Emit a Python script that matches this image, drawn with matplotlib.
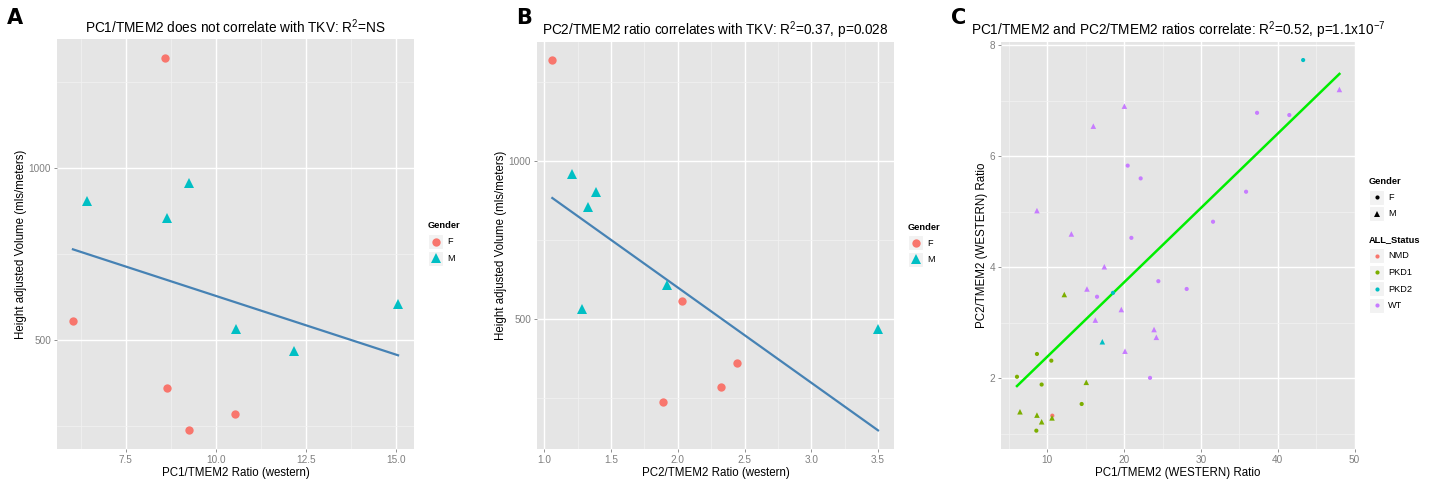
import numpy as np
import matplotlib.pyplot as plt
from matplotlib.lines import Line2D
from matplotlib.patches import Rectangle

plt.rcParams['font.family'] = ['Liberation Sans', 'DejaVu Sans']
plt.rcParams['mathtext.fontset'] = 'custom'
plt.rcParams['mathtext.rm'] = 'Liberation Sans'
plt.rcParams['mathtext.it'] = 'Liberation Sans:italic'

# --- panels A and B: same patients, TKV vs western ratios ---
vol_f = [1321, 557, 360, 285, 238]
pc1_f = [8.58, 6.04, 8.64, 10.52, 9.25]
pc2_f = [1.06, 2.03, 2.44, 2.32, 1.89]

vol_m = [958, 904, 855, 607, 533, 469]
pc1_m = [9.27, 6.42, 8.64, 15.05, 10.55, 12.16]
pc2_m = [1.21, 1.39, 1.33, 1.92, 1.28, 3.50]

# --- panel C: PC1/TMEM2 vs PC2/TMEM2 ---
c_f_x = [43.3, 37.3, 41.5, 20.46, 22.15, 35.87, 31.57, 20.94, 24.45, 28.14,
         16.47, 18.55, 23.37, 8.65, 10.52, 6.05, 9.26, 14.47, 8.57, 10.65]
c_f_y = [7.73, 6.78, 6.74, 5.83, 5.60, 5.36, 4.82, 4.53, 3.75, 3.61,
         3.47, 3.54, 2.01, 2.44, 2.32, 2.03, 1.89, 1.54, 1.06, 1.33]
c_f_status = ['PKD2', 'WT', 'WT', 'WT', 'WT', 'WT', 'WT', 'WT', 'WT', 'WT',
              'WT', 'PKD2', 'WT', 'PKD1', 'PKD1', 'PKD1', 'PKD1', 'PKD1', 'PKD1', 'NMD']

c_m_x = [48.02, 20.03, 15.99, 8.65, 13.13, 17.42, 15.16, 19.63, 16.25, 23.89,
         24.19, 20.11, 17.16, 12.21, 15.07, 6.44, 8.65, 9.26, 10.61]
c_m_y = [7.20, 6.90, 6.54, 5.02, 4.60, 4.01, 3.61, 3.24, 3.05, 2.88,
         2.74, 2.49, 2.66, 3.51, 1.93, 1.40, 1.34, 1.22, 1.29]
c_m_status = ['WT', 'WT', 'WT', 'WT', 'WT', 'WT', 'WT', 'WT', 'WT', 'WT',
              'WT', 'WT', 'PKD2', 'PKD1', 'PKD1', 'PKD1', 'PKD1', 'PKD1', 'PKD1']

statuses = ['NMD', 'PKD1', 'PKD2', 'WT']
status_col = {'NMD': '#F8766D', 'PKD1': '#7CAE00', 'PKD2': '#00BFC4', 'WT': '#C77CFF'}
col_f = '#F8766D'
col_m = '#00BFC4'

TITLE_FS = 9.8
LABEL_FS = 8.3

W, H = 1434, 482
fig = plt.figure(figsize=(W / 100, H / 100), dpi=100)


def px_axes(l, t, r, b):
    return fig.add_axes([l / W, 1 - b / H, (r - l) / W, (b - t) / H])


def gg_style(ax, xmaj, xmin, ymaj, ymin):
    ax.set_facecolor('#E5E5E5')
    for s in ax.spines.values():
        s.set_visible(False)
    ax.set_xticks(xmaj)
    ax.set_xticks(xmin, minor=True)
    ax.set_yticks(ymaj)
    ax.set_yticks(ymin, minor=True)
    ax.grid(which='major', color='white', lw=1.0)
    ax.grid(which='minor', color='#F2F2F2', lw=0.5)
    ax.set_axisbelow(True)
    ax.tick_params(which='major', length=2.5, width=0.6, color='#7F7F7F',
                   labelcolor='#7F7F7F', labelsize=7.2, pad=1.5)
    ax.tick_params(which='minor', length=0)


def fit_line(ax, xs, ys, color, lw):
    xs = np.asarray(xs, float)
    ys = np.asarray(ys, float)
    k, b = np.polyfit(xs, ys, 1)
    xx = np.array([xs.min(), xs.max()])
    ax.plot(xx, k * xx + b, color=color, lw=lw, zorder=2)


# Panel A
axA = px_axes(56.7, 39, 414.3, 449)
gg_style(axA, [7.5, 10, 12.5, 15], [6.25, 8.75, 11.25, 13.75],
         [500, 1000], [250, 750, 1250])
axA.set_xlim(5.59, 15.5)
axA.set_ylim(184, 1376)
fit_line(axA, pc1_f + pc1_m, vol_f + vol_m, '#4682B4', 1.6)
axA.plot(pc1_f, vol_f, 'o', color=col_f, ms=6, mew=0, zorder=3)
axA.plot(pc1_m, vol_m, '^', color=col_m, ms=7.5, mew=0, zorder=3)
axA.set_xticklabels(['7.5', '10.0', '12.5', '15.0'])
axA.set_xlabel('PC1/TMEM2 Ratio (western)', fontsize=LABEL_FS, labelpad=2)
axA.set_ylabel('Height adjusted Volume (mls/meters)', fontsize=LABEL_FS, labelpad=1.5)
axA.set_title('PC1/TMEM2 does not correlate with TKV: R$^2$=NS', fontsize=TITLE_FS, pad=4)

# Panel B
axB = px_axes(536.7, 41.7, 894.3, 449)
gg_style(axB, [1.0, 1.5, 2.0, 2.5, 3.0, 3.5], [1.25, 1.75, 2.25, 2.75, 3.25],
         [500, 1000], [250, 750, 1250])
axB.set_xlim(0.943, 3.622)
axB.set_ylim(87.5, 1379)
fit_line(axB, pc2_f + pc2_m, vol_f + vol_m, '#4682B4', 1.6)
axB.plot(pc2_f, vol_f, 'o', color=col_f, ms=6, mew=0, zorder=3)
axB.plot(pc2_m, vol_m, '^', color=col_m, ms=7.5, mew=0, zorder=3)
axB.set_xticklabels(['1.0', '1.5', '2.0', '2.5', '3.0', '3.5'])
axB.set_xlabel('PC2/TMEM2 Ratio (western)', fontsize=LABEL_FS, labelpad=2)
axB.set_ylabel('Height adjusted Volume (mls/meters)', fontsize=LABEL_FS, labelpad=1.5)
axB.set_title('PC2/TMEM2 ratio correlates with TKV: R$^2$=0.37, p=0.028',
              fontsize=TITLE_FS, pad=5)

# Panel C
axC = px_axes(1001, 41.7, 1355, 449)
gg_style(axC, [10, 20, 30, 40, 50], [5, 15, 25, 35, 45], [2, 4, 6, 8], [1, 3, 5, 7])
axC.set_xlim(3.97, 50.05)
axC.set_ylim(0.73, 8.06)
fit_line(axC, c_f_x + c_m_x, c_f_y + c_m_y, '#00EE00', 1.8)
axC.scatter(c_f_x, c_f_y, s=9, marker='o', lw=0,
            c=[status_col[s] for s in c_f_status], zorder=3)
axC.scatter(c_m_x, c_m_y, s=16, marker='^', lw=0,
            c=[status_col[s] for s in c_m_status], zorder=3)
axC.set_xlabel('PC1/TMEM2 (WESTERN) Ratio', fontsize=LABEL_FS, labelpad=2)
axC.set_ylabel('PC2/TMEM2 (WESTERN) Ratio', fontsize=LABEL_FS, labelpad=1.5)
axC.set_title('PC1/TMEM2 and PC2/TMEM2 ratios correlate: R$^2$=0.52, p=1.1x10$^{-7}$',
              fontsize=TITLE_FS, pad=5)

# overlay in pixel coordinates for legends and panel letters
ov = fig.add_axes([0, 0, 1, 1], zorder=10)
ov.set_xlim(0, W)
ov.set_ylim(H, 0)
ov.axis('off')


def legend(x, y_title, title, entries, key=16):
    ov.text(x, y_title, title, fontsize=6.7, fontweight='bold', va='center', ha='left')
    y = y_title + 8
    for marker, color, ms, label in entries:
        ov.add_patch(Rectangle((x, y), key - 1, key - 1, fc='#F2F2F2', ec='white', lw=0.8))
        ov.add_line(Line2D([x + key / 2 - 0.5], [y + key / 2 - 0.5], marker=marker,
                           color=color, ms=ms, mew=0, ls='none'))
        ov.text(x + key + 3, y + key / 2, label, fontsize=6.6, va='center', ha='left')
        y += key + 0.5


legend(428, 226, 'Gender', [('o', col_f, 6, 'F'), ('^', col_m, 7.5, 'M')])
legend(908, 227, 'Gender', [('o', col_f, 6, 'F'), ('^', col_m, 7.5, 'M')])
legend(1369, 181.5, 'Gender', [('o', 'black', 3, 'F'), ('^', 'black', 4, 'M')])
legend(1369, 240, 'ALL_Status',
       [('o', status_col[s], 3, s) for s in statuses])

for lx, lab in [(7, 'A'), (516, 'B'), (951, 'C')]:
    ov.text(lx, 18, lab, fontsize=15, fontweight='bold', va='center', ha='left',
            family='DejaVu Sans')

fig.savefig('out.png', dpi=100)
